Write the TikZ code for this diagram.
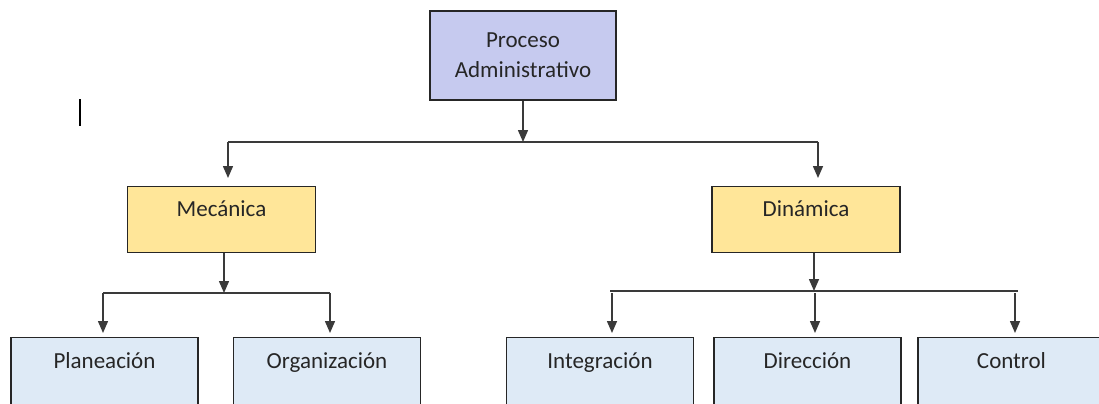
\documentclass[tikz,border=0pt]{standalone}
\usepackage{fontspec}
\setmainfont{Carlito}
\usetikzlibrary{arrows.meta}

\definecolor{procfill}{HTML}{C6CAEF}
\definecolor{midfill}{HTML}{FFE699}
\definecolor{leaffill}{HTML}{DEEAF6}
\definecolor{linegray}{HTML}{3A3A3A}

\tikzset{
    box/.style={draw=black!85, line width=0.6pt, inner sep=0pt, font=\fontsize{11.5}{15}\selectfont, text=black!85},
    procbox/.style={box, fill=procfill, minimum width=93pt, minimum height=44.5pt, align=center},
    midbox/.style={box, fill=midfill, anchor=north, minimum width=94pt, text height=15pt, text depth=18pt},
    leafbox/.style={box, fill=leaffill, anchor=north, minimum width=93.5pt, text height=15.5pt, text depth=30pt},
    conn/.style={draw=linegray, line width=0.75pt},
    arr/.style={conn, -{Triangle[width=5pt,length=6pt]}}
}

\begin{document}
\begin{tikzpicture}[x=0.5pt, y=-0.5pt]
    \useasboundingbox (0,0) rectangle (1099,403);
    \clip (0,0) rectangle (1099,403);

    \node[procbox] (proc) at (523,55.5) {Proceso\\Administrativo};
    \node[midbox] (mec) at (221.5,186) {Mecánica};
    \node[midbox] (din) at (806,186) {Dinámica};
    \node[leafbox] (plan) at (104.5,337) {Planeación};
    \node[leafbox] (org) at (327,337) {Organización};
    \node[leafbox] (integ) at (600,337) {Integración};
    \node[leafbox] (dir) at (807.5,337) {Dirección};
    \node[leafbox] (ctrl) at (1011.5,337) {Control};

    % first level
    \coordinate (busL) at (228,142);
    \coordinate (busR) at (818,142);
    \draw[arr] (proc.south) -- (proc.south |- busL);
    \draw[conn] (busL) -- (busR);
    \draw[arr, shorten >=4pt] (busL) -- (busL |- mec.north);
    \draw[arr, shorten >=4pt] (busR) -- (busR |- din.north);

    % mecanica
    \coordinate (mbusL) at (103,293);
    \coordinate (mbusR) at (330,293);
    \draw[arr] ([xshift=1.25pt]mec.south) -- ([xshift=1.25pt]mec.south |- mbusL);
    \draw[conn] (mbusL) -- (mbusR);
    \draw[arr, shorten >=2pt] (mbusL) -- (mbusL |- plan.north);
    \draw[arr, shorten >=2pt] (mbusR) -- (mbusR |- org.north);

    % dinamica
    \coordinate (dbusL) at (610,291);
    \coordinate (dbusR) at (1018,291);
    \coordinate (dA) at (612,293);
    \coordinate (dB) at (815,293);
    \coordinate (dC) at (1015,293);
    \draw[arr] ([xshift=4pt]din.south) -- ([xshift=4pt]din.south |- dbusL);
    \draw[conn] (dbusL) -- (dbusR);
    \draw[arr, shorten >=2pt] (dA) -- (dA |- integ.north);
    \draw[arr, shorten >=2pt] (dB) -- (dB |- dir.north);
    \draw[arr, shorten >=2pt] (dC) -- (dC |- ctrl.north);

    \draw[line width=1pt] (80,99) -- (80,126);
\end{tikzpicture}
\end{document}
